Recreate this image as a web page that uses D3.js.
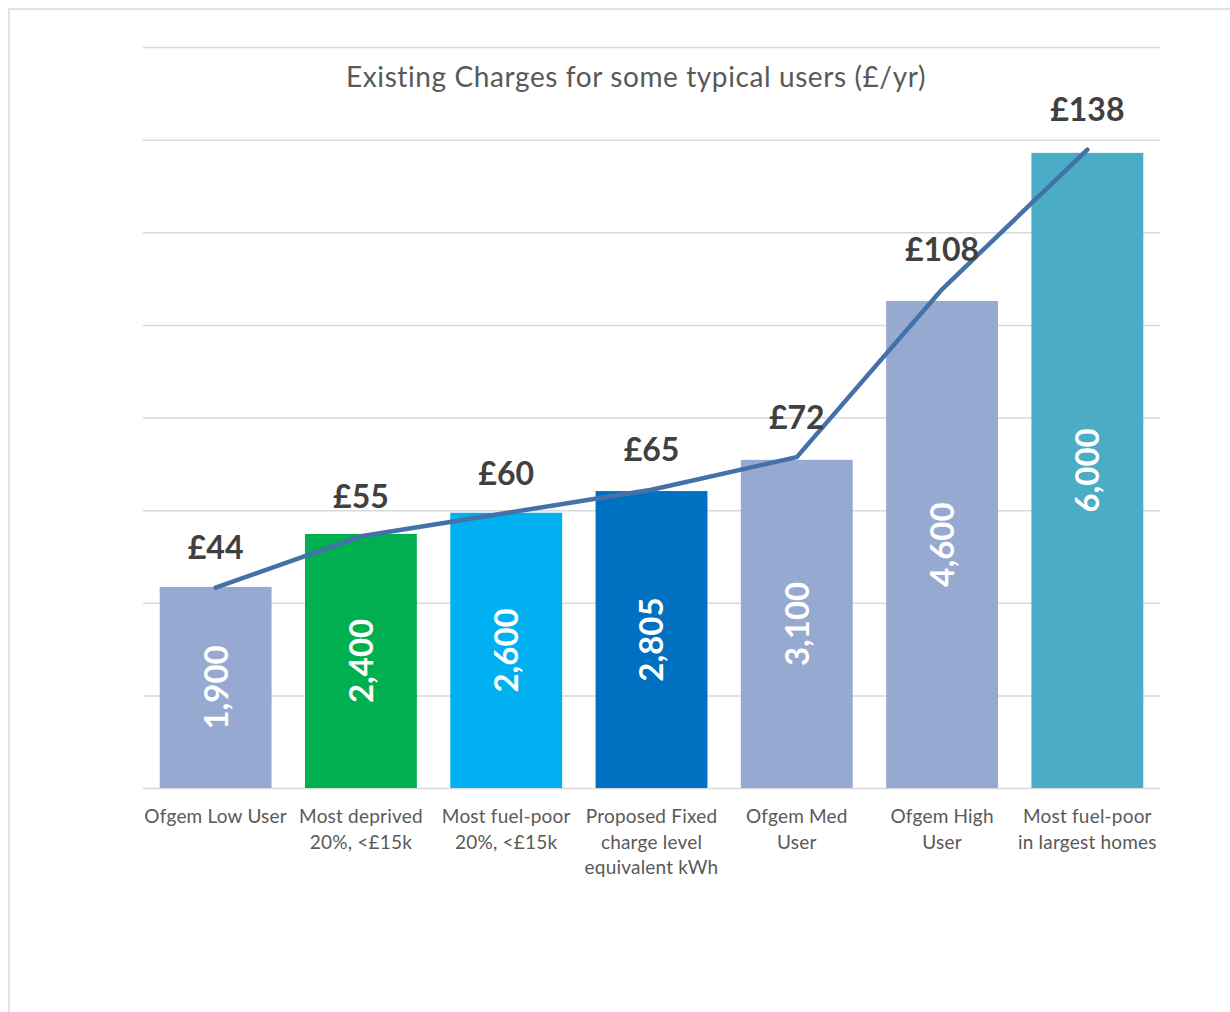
<!DOCTYPE html>
<html>
<head>
<meta charset="utf-8">
<script src="https://cdn.jsdelivr.net/npm/d3@7"></script>
<style>
  body { margin: 0; background: #fff; }
  svg { display: block; font-family: Lato, "Open Sans", sans-serif; }
</style>
</head>
<body>
<svg></svg>
<script>
const width = 1230;
const height = 1012;

// categories and values
const categories = [
  "Ofgem Low User",
  "Most deprived\n20%, <£15k",
  "Most fuel-poor\n20%, <£15k",
  "Proposed Fixed\ncharge level\nequivalent kWh",
  "Ofgem Med\nUser",
  "Ofgem High\nUser",
  "Most fuel-poor\nin largest homes",
];
const kwhValues = [1900, 2400, 2600, 2805, 3100, 4600, 6000];
const chargeValues = [44, 55, 60, 65, 72, 108, 138];
const barColors = ["#95a9d1", "#00b050", "#00b0f0", "#0070c0", "#95a9d1", "#95a9d1", "#4bacc6"];
const gridTicks = d3.range(0, 7001, 875);

const plot = { left: 143, right: 1160, top: 47, bottom: 788 };

let svg = d3.select("svg").attr("width", width).attr("height", height);

// outer chart frame
svg
  .append("rect")
  .attr("x", 9)
  .attr("y", 9)
  .attr("width", width)
  .attr("height", height)
  .attr("fill", "none")
  .attr("stroke", "#d9d9d9")
  .attr("stroke-width", 1.5);

const x = d3
  .scaleBand()
  .domain(categories)
  .range([plot.left, plot.right])
  .paddingInner(0.23)
  .paddingOuter(0.115);

const y = d3.scaleLinear().domain([0, 7000]).range([plot.bottom, plot.top]);
// hidden secondary axis for the £ line
const y2 = d3.scaleLinear().domain([1, 160]).range([plot.bottom, plot.top]);

// gridlines
const grid = svg
  .append("g")
  .attr("transform", `translate(${plot.left},0)`)
  .call(
    d3
      .axisLeft(y)
      .tickValues(gridTicks)
      .tickSize(-(plot.right - plot.left))
      .tickFormat("")
  );
grid.select(".domain").remove();
grid.selectAll("line").attr("stroke", "#d9d9d9").attr("stroke-width", 1.5);

// title
svg
  .append("text")
  .attr("x", 636)
  .attr("y", 87)
  .attr("text-anchor", "middle")
  .attr("fill", "#595959")
  .style("font-size", "28px")
  .style("letter-spacing", "0.6px")
  .text("Existing Charges for some typical users (£/yr)");

const data = categories.map((c, i) => ({
  cat: c,
  kwh: kwhValues[i],
  charge: chargeValues[i],
  color: barColors[i],
}));

// bars
svg
  .append("g")
  .selectAll("rect")
  .data(data)
  .enter()
  .append("rect")
  .attr("x", (d) => x(d.cat))
  .attr("y", (d) => y(d.kwh))
  .attr("width", x.bandwidth())
  .attr("height", (d) => y(0) - y(d.kwh))
  .attr("fill", (d) => d.color);

// rotated kWh labels inside bars
svg
  .append("g")
  .selectAll("text")
  .data(data)
  .enter()
  .append("text")
  .attr("transform", (d) => {
    const cx = x(d.cat) + x.bandwidth() / 2;
    const cy = (y(d.kwh) + y(0)) / 2;
    return `translate(${cx},${cy}) rotate(-90)`;
  })
  .attr("text-anchor", "middle")
  .attr("dy", "0.36em")
  .attr("fill", "#fff")
  .style("font-size", "33px")
  .style("font-weight", "bold")
  .text((d) => d3.format(",")(d.kwh));

// charge line
const line = d3
  .line()
  .x((d) => x(d.cat) + x.bandwidth() / 2)
  .y((d) => y2(d.charge));

svg
  .append("path")
  .datum(data)
  .attr("d", line)
  .attr("fill", "none")
  .attr("stroke", "#4472a8")
  .attr("stroke-width", 4.5)
  .attr("stroke-linecap", "round")
  .attr("stroke-linejoin", "round");

// £ labels above line points
svg
  .append("g")
  .selectAll("text")
  .data(data)
  .enter()
  .append("text")
  .attr("x", (d) => x(d.cat) + x.bandwidth() / 2)
  .attr("y", (d) => y2(d.charge) - 40)
  .attr("dy", "0.36em")
  .attr("text-anchor", "middle")
  .attr("fill", "#404040")
  .style("font-size", "32px")
  .style("font-weight", "bold")
  .text((d) => `£${d.charge}`);

// category labels
const catLabels = svg
  .append("g")
  .selectAll("text")
  .data(data)
  .enter()
  .append("text")
  .attr("text-anchor", "middle")
  .attr("fill", "#595959")
  .style("font-size", "19px")
  .style("letter-spacing", "0.2px");

catLabels
  .selectAll("tspan")
  .data((d) => d.cat.split("\n").map((t) => ({ t, cat: d.cat })))
  .enter()
  .append("tspan")
  .attr("x", (d) => x(d.cat) + x.bandwidth() / 2)
  .attr("y", (d, i) => 823 + i * 25.5)
  .text((d) => d.t);
</script>
</body>
</html>
